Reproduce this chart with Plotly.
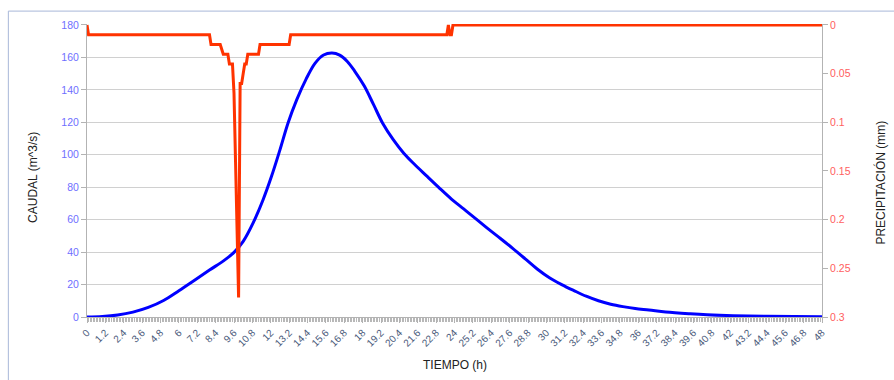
import plotly.graph_objects as go

# --- Data ---
tiempo_caudal = [0, 1, 2, 3, 4, 5, 6, 7, 8, 9, 9.6, 10.2, 10.85, 11.5, 12.05, 12.6, 13.13,
                 13.7, 14.3, 14.9, 15.45, 16.0, 16.5, 17.0, 17.5, 18.1, 18.7, 19.3, 20.0,
                 20.7, 21.4, 22.2, 23.0, 23.8, 24.6, 25.4, 26.2, 27.0, 27.8, 28.6, 29.4,
                 30.2, 31.0, 31.8, 32.6, 33.4, 34.2, 35.0, 35.8, 36.7, 37.8, 39.4, 40.5,
                 42.2, 44.4, 48]
caudal = [0, 0.3, 1.2, 3.0, 5.9, 10.2, 16.2, 22.5, 28.9, 35.2, 39.8, 46.6, 58, 72.3, 86.7,
          103, 119.6, 134, 146.5, 156.5, 161.5, 162.7, 161.4, 157.5, 151.3, 142.5, 131.2,
          119.6, 109.3, 100.8, 94, 86.8, 79.6, 72.7, 66.6, 60.5, 54.3, 48.4, 42.3, 36.0,
          29.6, 24.2, 20, 16.3, 12.8, 10, 7.9, 6.4, 5.2, 4.3, 3.1, 2.0, 1.4, 0.8, 0.4, 0.2]

tiempo_precip = [0, 0.1, 8.0, 8.1, 8.7, 8.9, 9.2, 9.3, 9.5, 9.6, 9.7, 9.8, 9.9, 10.0,
                 10.1, 10.2, 10.3, 10.4, 10.5, 11.2, 11.3, 13.2, 13.3, 23.5, 23.6,
                 23.7, 23.8, 23.9, 48]
precipitacion = [0, 0.01, 0.01, 0.02, 0.02, 0.03, 0.03, 0.04, 0.04, 0.07, 0.14, 0.22, 0.28, 0.06,
                 0.06, 0.05, 0.04, 0.04, 0.03, 0.03, 0.02, 0.02, 0.01, 0.01, 0.0,
                 0.01, 0.01, 0.0, 0.0]

x_tick_labels = ["0", "1.2", "2.4", "3.6", "4.8", "6", "7.2", "8.4", "9.6", "10.8", "12",
                 "13.2", "14.4", "15.6", "16.8", "18", "19.2", "20.4", "21.6", "22.8", "24",
                 "25.2", "26.4", "27.6", "28.8", "30", "31.2", "32.4", "33.6", "34.8", "36",
                 "37.2", "38.4", "39.6", "40.8", "42", "43.2", "44.4", "45.6", "46.8", "48"]
x_tick_vals = [float(v) for v in x_tick_labels]

FONT = "Liberation Sans, Arial, sans-serif"

fig = go.Figure()
fig.add_trace(go.Scatter(
    x=tiempo_caudal, y=caudal, mode="lines", name="CAUDAL",
    line=dict(color="#0000ff", width=3, shape="spline", smoothing=1.0),
    yaxis="y"))
fig.add_trace(go.Scatter(
    x=tiempo_precip, y=precipitacion, mode="lines", name="PRECIPITACIÓN",
    line=dict(color="#ff3300", width=3),
    yaxis="y2"))

fig.update_layout(
    width=894, height=380,
    margin=dict(l=87, r=72, t=24, b=63),
    paper_bgcolor="white", plot_bgcolor="white",
    showlegend=False,
    font=dict(family=FONT),
    xaxis=dict(
        range=[0, 48], tickmode="array", tickvals=x_tick_vals, ticktext=x_tick_labels,
        tickangle=-45, tickfont=dict(size=10, color="#4a5a7a", family=FONT),
        showgrid=False, zeroline=False, showline=True, linecolor="#b3b3b3", linewidth=1,
        ticks="outside", ticklen=5, tickcolor="#b3b3b3",
        minor=dict(tickmode="linear", tick0=0, dtick=0.1, ticks="outside",
                   ticklen=4, tickcolor="#b8b8b8", showgrid=False),
    ),
    yaxis=dict(
        range=[0, 180.6], tickmode="linear", tick0=0, dtick=20,
        tickfont=dict(size=10.5, color="#6f6fff", family=FONT),
        showgrid=True, gridcolor="#d0d0d0", gridwidth=1, zeroline=False,
        showline=True, linecolor="#b3b3b3", ticks="outside", ticklen=5, tickcolor="#b3b3b3",
    ),
    yaxis2=dict(
        range=[0.3, -0.001], overlaying="y", side="right",
        tickmode="array", tickvals=[0, 0.05, 0.1, 0.15, 0.2, 0.25, 0.3],
        ticktext=["0", "0.05", "0.1", "0.15", "0.2", "0.25", "0.3"],
        tickfont=dict(size=10.5, color="#ff6060", family=FONT),
        showgrid=False, zeroline=False,
        showline=True, linecolor="#b3b3b3", ticks="outside", ticklen=5, tickcolor="#b3b3b3",
    ),
    annotations=[
        dict(text="CAUDAL (m&#94;3/s)", xref="paper", yref="paper", x=-0.0735, y=0.478,
             textangle=-90, showarrow=False, xanchor="center", yanchor="middle",
             font=dict(size=12, color="#222222", family=FONT)),
        dict(text="PRECIPITACIÓN (mm)", xref="paper", yref="paper", x=1.079, y=0.459,
             textangle=-90, showarrow=False, xanchor="center", yanchor="middle",
             font=dict(size=12, color="#222222", family=FONT)),
        dict(text="TIEMPO (h)", xref="paper", yref="paper", x=0.5, y=-0.164,
             showarrow=False, xanchor="center", yanchor="middle",
             font=dict(size=12, color="#222222", family=FONT)),
    ],
    shapes=[
        dict(type="line", xref="paper", yref="paper", x0=-0.107, x1=1.2, y0=1.044, y1=1.044,
             line=dict(color="#a8b8d8", width=1)),
        dict(type="line", xref="paper", yref="paper", x0=-0.107, x1=-0.107, y0=1.044, y1=-0.3,
             line=dict(color="#a8b8d8", width=1)),
    ],
)

fig.write_html("out.html", config={"displayModeBar": False},
               post_script="document.body.style.margin='0';")
